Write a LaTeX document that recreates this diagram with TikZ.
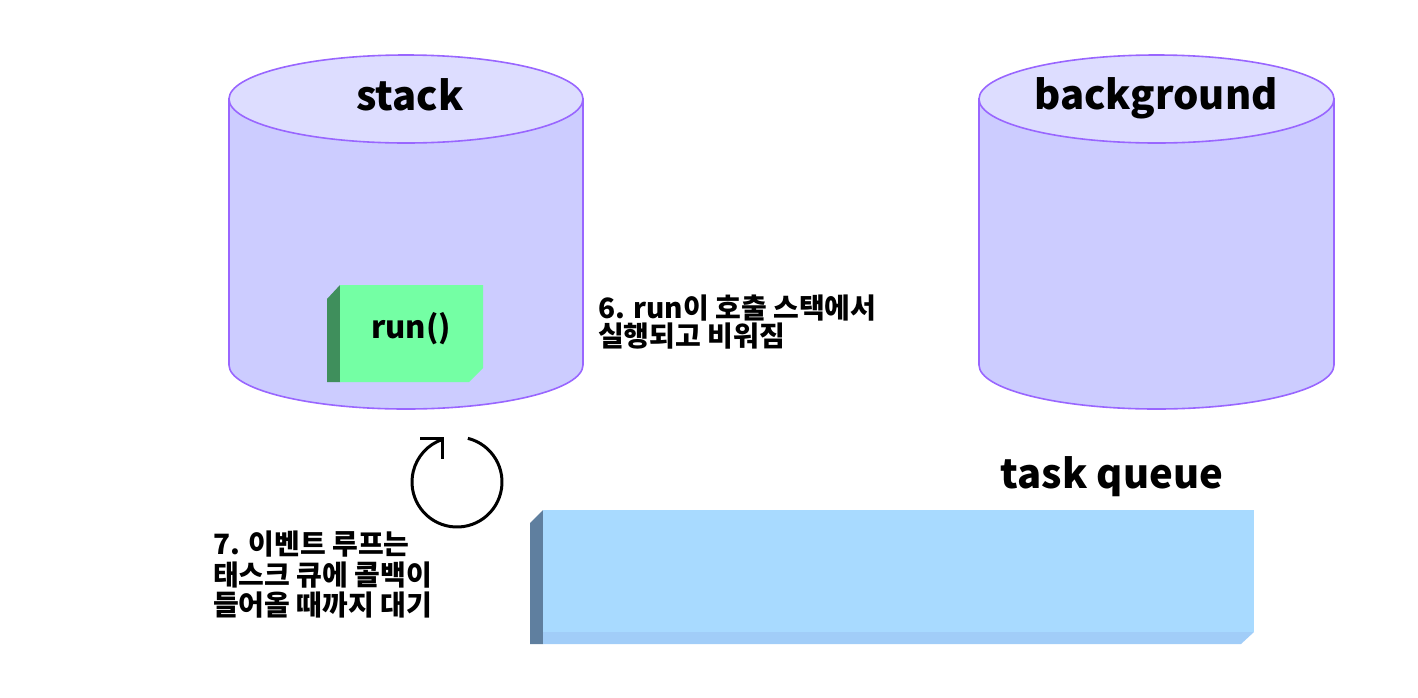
\documentclass[tikz,border=0pt]{standalone}
\usepackage{fontspec}
\setmainfont{Noto Sans CJK KR}
\definecolor{cylbody}{HTML}{CCCCFF}
\definecolor{cyltop}{HTML}{DDDDFF}
\definecolor{cylline}{HTML}{9966FF}
\definecolor{gfront}{HTML}{74FFA4}
\definecolor{gside}{HTML}{3F8F5C}
\definecolor{bfront}{HTML}{A8DAFF}
\definecolor{bside}{HTML}{5F7F9F}
\definecolor{bbottom}{HTML}{A1CDF8}
\tikzset{
  cylshape/.style={fill=cylbody, draw=cylline, line width=1.6pt},
  cyltopshape/.style={fill=cyltop, draw=cylline, line width=1.6pt},
  title/.style={font=\fontsize{40}{46}\selectfont\bfseries, inner sep=0pt, anchor=base},
  note/.style={font=\fontsize{28}{28}\selectfont\bfseries, inner sep=0pt, anchor=north west, align=left},
  loopline/.style={line width=3pt, draw=black}
}
\begin{document}
\begin{tikzpicture}[x=1pt,y=-1pt]
\useasboundingbox (0,0) rectangle (1418,697);
% stack cylinder
\draw[cylshape] (229,99) -- (229,365) arc[start angle=180, end angle=0, x radius=177, y radius=44] -- (583,99) -- cycle;
\draw[cyltopshape] (406,99) ellipse[x radius=177, y radius=44];
\node[title] (stack) at (410,110) {stack};
% background cylinder
\draw[cylshape] (979,99) -- (979,365) arc[start angle=180, end angle=0, x radius=177.5, y radius=44] -- (1334,99) -- cycle;
\draw[cyltopshape] (1156.5,99) ellipse[x radius=177.5, y radius=44];
\node[title] (bg) at (1156,109) {background};
% run() box
\fill[gside] (327,299) -- (340,285) -- (340,382) -- (327,382) -- cycle;
\fill[gfront] (340,285) -- (483,285) -- (483,368) -- (469,382) -- (340,382) -- cycle;
\node[font=\fontsize{31}{36}\selectfont\bfseries, inner sep=0pt, anchor=base] (run) at (411,338) {run()};
% note 6
\node[note] (note6) at (598,295) {6. run이 호출 스택에서\\실행되고 비워짐};
% loop arrow
\coordinate (loopc) at (457,482);
\draw[loopline] (loopc) ++(-76:45) arc[start angle=-76, end angle=251, radius=45];
\draw[loopline, line join=miter] (420,438) -- (442,438) -- (442,459);
% task queue
\node[title] (tq) at (1112,488) {task queue};
\fill[bside] (530,523) -- (543,510) -- (543,644) -- (530,644) -- cycle;
\fill[bfront] (543,510) -- (1254,510) -- (1254,632) -- (543,632) -- cycle;
\fill[bbottom] (543,632) -- (1254,632) -- (1241,644) -- (543,644) -- cycle;
% note 7
\node[note, font=\fontsize{28}{30.5}\selectfont\bfseries] (note7) at (213,531) {7. 이벤트 루프는\\태스크 큐에 콜백이\\들어올 때까지 대기};
\end{tikzpicture}
\end{document}
